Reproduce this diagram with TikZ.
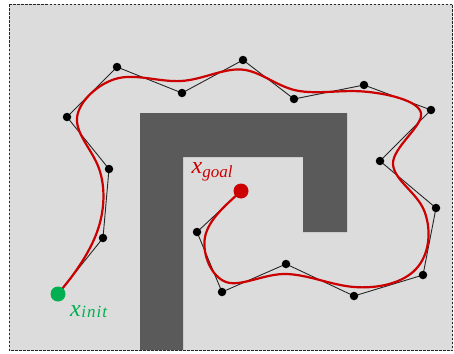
\documentclass[tikz,border=0pt]{standalone}
\usepackage{fontspec}
\setmainfont{Liberation Serif}
\usetikzlibrary{calc}
\definecolor{bg}{HTML}{DCDCDC}
\definecolor{obst}{HTML}{5A5A5A}
\definecolor{pathred}{HTML}{CC0000}
\definecolor{initgreen}{HTML}{00B050}
\begin{document}
\begin{tikzpicture}[x=1pt,y=-1pt,
  ctrl/.style={circle,fill=black,inner sep=0pt,minimum size=8.5pt},
  enddot/.style={circle,inner sep=0pt,minimum size=15pt},
  poly/.style={draw=black!85,line width=0.9pt,line join=round},
  spline/.style={draw=pathred,line width=2.2pt,line cap=round},
  lbl/.style={inner sep=0pt,anchor=base west}]
\useasboundingbox (0,0) rectangle (454,353);
\fill[white] (0,0) rectangle (454,353);
\filldraw[fill=bg,draw=black!85,line width=0.9pt,dash pattern=on 2.5pt off 1.5pt] (9,4.5) rectangle (452.5,350.5);
\fill[obst] (140,113) -- (347,113) -- (347,232) -- (303,232) -- (303,157) -- (183,157) -- (183,350) -- (140,350) -- cycle;
% control polygon points
\coordinate (p0) at (58,294);
\coordinate (p1) at (103,238);
\coordinate (p2) at (109,169);
\coordinate (p3) at (67,117);
\coordinate (p4) at (117,67);
\coordinate (p5) at (182,93);
\coordinate (p6) at (243,60);
\coordinate (p7) at (294,99);
\coordinate (p8) at (364,85);
\coordinate (p9) at (431,110);
\coordinate (p10) at (380,161);
\coordinate (p11) at (436,208);
\coordinate (p12) at (423,275);
\coordinate (p13) at (354,296);
\coordinate (p14) at (286,264);
\coordinate (p15) at (222,292);
\coordinate (p16) at (197,232);
\coordinate (p17) at (241,191);
% spline knots
\coordinate (k1) at (95.5,236);
\coordinate (k2) at (100,171.5);
\coordinate (k3) at (77,118);
\coordinate (k4) at (119,78);
\coordinate (k5) at (181,81);
\coordinate (k6) at (241,69.5);
\coordinate (k7) at (296.5,90.5);
\coordinate (k8) at (363.5,91.5);
\coordinate (k9) at (421,113);
\coordinate (k10) at (393,164);
\coordinate (k11) at (424.5,211.5);
\coordinate (k12) at (416,269);
\coordinate (k13) at (354,287);
\coordinate (k14) at (286.5,274);
\coordinate (k15) at (226,282);
\coordinate (k16) at (205,237);
\foreach \i [evaluate=\i as \im using int(\i-1), evaluate=\i as \ip using int(\i+1)] in {1,...,16} {
  \coordinate (a\i) at ($(k\i)+0.16667*(p\ip)-0.16667*(p\im)$);
  \coordinate (b\i) at ($(k\i)-0.16667*(p\ip)+0.16667*(p\im)$);
}
\coordinate (s0) at ($(p0)!0.16667!(p1)$);
\coordinate (s1) at ($(p0)!0.33333!(p1)$);
\coordinate (e1) at ($(p17)!0.33333!(p16)$);
\coordinate (e0) at ($(p17)!0.16667!(p16)$);
% control polygon
\draw[poly] (p0) -- (p1) -- (p2) -- (p3) -- (p4) -- (p5) -- (p6) -- (p7) -- (p8) -- (p9)
  -- (p10) -- (p11) -- (p12) -- (p13) -- (p14) -- (p15) -- (p16) -- (p17);
% smooth path
\draw[spline] (p0) -- (s0) .. controls (s1) and (b1) .. (k1)
  .. controls (a1) and (b2) .. (k2)
  .. controls (a2) and (b3) .. (k3)
  .. controls (a3) and (b4) .. (k4)
  .. controls (a4) and (b5) .. (k5)
  .. controls (a5) and (b6) .. (k6)
  .. controls (a6) and (b7) .. (k7)
  .. controls (a7) and (b8) .. (k8)
  .. controls (a8) and (b9) .. (k9)
  .. controls (a9) and (b10) .. (k10)
  .. controls (a10) and (b11) .. (k11)
  .. controls (a11) and (b12) .. (k12)
  .. controls (a12) and (b13) .. (k13)
  .. controls (a13) and (b14) .. (k14)
  .. controls (a14) and (b15) .. (k15)
  .. controls (a15) and (b16) .. (k16)
  .. controls (a16) and (e1) .. (e0) -- (p17);
% dots
\foreach \i in {1,...,16} { \node[ctrl] (c\i) at (p\i) {}; }
\node[enddot,fill=initgreen] (init) at (p0) {};
\node[enddot,fill=pathred] (goal) at (p17) {};
% labels
\node[lbl,text=initgreen] (initlbl) at (70,316.5) {\fontsize{24}{28}\selectfont\itshape x\kern0.5pt\raisebox{-1pt}{\fontsize{17}{20}\selectfont i\kern1pt n\kern1pt i\kern1pt t}};
\node[lbl,text=pathred] (goallbl) at (191.5,173.5) {\fontsize{24}{28}\selectfont\itshape x\raisebox{-3.5pt}{\fontsize{17}{20}\selectfont goal}};
\end{tikzpicture}
\end{document}
